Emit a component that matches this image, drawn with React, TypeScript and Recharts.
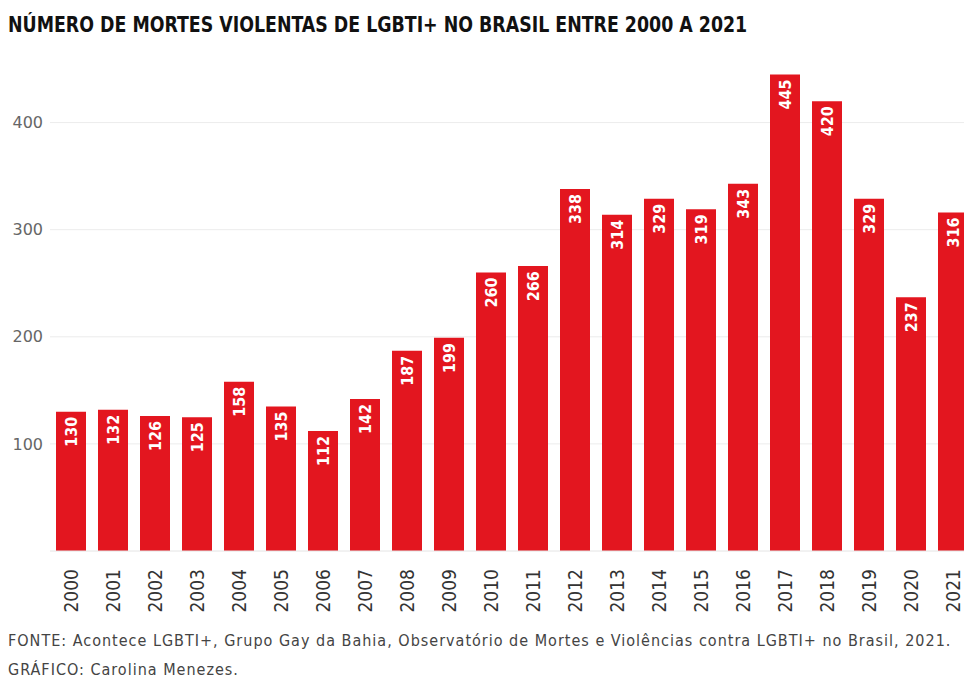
import * as React from 'react'
import { BarChart, Bar, XAxis, YAxis, CartesianGrid, LabelList } from 'recharts'

const years = [
  '2000', '2001', '2002', '2003', '2004', '2005', '2006', '2007', '2008', '2009', '2010',
  '2011', '2012', '2013', '2014', '2015', '2016', '2017', '2018', '2019', '2020', '2021',
]
const deaths = [
  130, 132, 126, 125, 158, 135, 112, 142, 187, 199, 260,
  266, 338, 314, 329, 319, 343, 445, 420, 329, 237, 316,
]
const yTicks = [100, 200, 300, 400]

const title = 'NÚMERO DE MORTES VIOLENTAS DE LGBTI+ NO BRASIL ENTRE 2000 A 2021'
const source =
  'FONTE: Acontece LGBTI+, Grupo Gay da Bahia, Observatório de Mortes e Violências contra LGBTI+ no Brasil, 2021.'
const credit = 'GRÁFICO: Carolina Menezes.'

const data = years.map((year, i) => ({ year, value: deaths[i] }))

const RED = '#e3161f'
const condensed = '"DejaVu Sans Condensed", "Liberation Sans Narrow", "Roboto", sans-serif'

function ValueLabel(props: any) {
  const { x, y, width, value } = props
  const cx = x + width / 2 + 6
  const cy = y + 5
  return (
    <text
      x={cx}
      y={cy}
      transform={`rotate(-90 ${cx} ${cy})`}
      textAnchor="end"
      fill="#fff"
      fontSize={16}
      fontWeight={700}
      fontFamily={condensed}
    >
      {value}
    </text>
  )
}

function YearTick(props: any) {
  const { x, y, payload } = props
  const tx = x + 7
  const ty = y + 10
  return (
    <text
      x={tx}
      y={ty}
      transform={`rotate(-90 ${tx} ${ty})`}
      textAnchor="end"
      fill="#333"
      fontSize={19}
      fontFamily={condensed}
    >
      {payload.value}
    </text>
  )
}

export default function App() {
  return (
    <div
      style={{
        position: 'fixed',
        left: 0,
        top: 0,
        width: 964,
        height: 679,
        overflow: 'hidden',
        background: '#fff',
      }}
    >
      <div style={{ position: 'absolute', left: 0, top: 0 }}>
        <BarChart
          width={974}
          height={679}
          data={data}
          margin={{ top: 15.5, right: 0, bottom: 0, left: 0 }}
        >
          <CartesianGrid vertical={false} stroke="#ececec" horizontalValues={yTicks} />
          <XAxis
            dataKey="year"
            height={128}
            tickLine={false}
            axisLine={{ stroke: '#e4e4e4' }}
            interval={0}
            tick={<YearTick />}
          />
          <YAxis
            width={50}
            domain={[0, 500]}
            ticks={yTicks}
            tickLine={false}
            axisLine={false}
            tickMargin={1}
            tick={{ fill: '#666', fontSize: 16, fontFamily: '"DejaVu Sans", sans-serif' }}
          />
          <Bar dataKey="value" fill={RED} barSize={30} isAnimationActive={false}>
            <LabelList dataKey="value" content={<ValueLabel />} />
          </Bar>
        </BarChart>
      </div>
      <div
        style={{
          position: 'absolute',
          left: 8,
          top: 13,
          fontFamily: condensed,
          fontWeight: 700,
          fontSize: 21,
          color: '#111',
          whiteSpace: 'nowrap',
          transform: 'scaleX(0.92)',
          transformOrigin: 'left top',
        }}
      >
        {title}
      </div>
      <div
        style={{
          position: 'absolute',
          left: 8,
          top: 626,
          fontFamily: condensed,
          fontSize: 16,
          letterSpacing: 1,
          lineHeight: '29px',
          color: '#444',
          whiteSpace: 'nowrap',
        }}
      >
        <div>{source}</div>
        <div>{credit}</div>
      </div>
    </div>
  )
}
